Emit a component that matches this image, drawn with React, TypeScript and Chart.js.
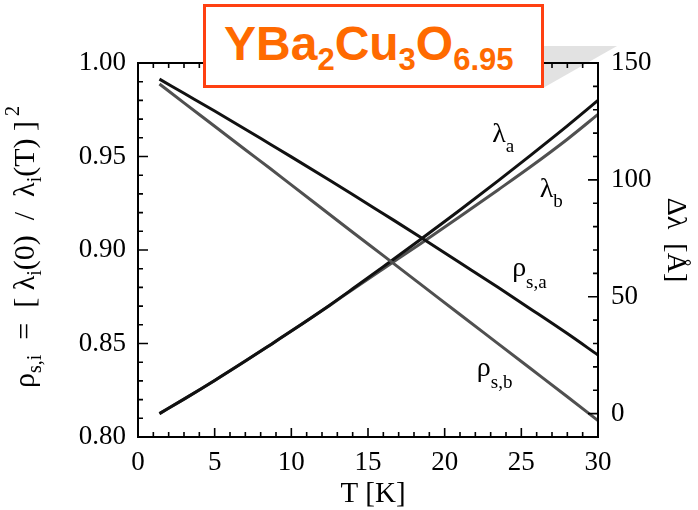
import React, { useEffect, useRef } from "react";
import { Chart, registerables } from "chart.js";

Chart.register(...registerables);

// Temperature grid (K) shared by all four curves
const temperatureK = [1.4, 3, 5, 7, 8.6, 10, 12.5, 14, 16, 18.4, 21, 23.5, 25.6, 28, 30];

// Superfluid density rho_s = [lambda(0)/lambda(T)]^2 along a and b (left axis)
const rhoA = [0.9914, 0.9838, 0.9743, 0.9646, 0.9567, 0.9498, 0.9373, 0.9297, 0.9194, 0.907, 0.8932, 0.8799, 0.8685, 0.8553, 0.8438];
const rhoB = [0.9888, 0.9787, 0.9662, 0.9536, 0.9437, 0.9348, 0.919, 0.9095, 0.897, 0.8819, 0.8655, 0.8498, 0.8366, 0.8215, 0.8088];

// Penetration depth shift Δλ in Å along a and b (right axis)
const deltaLambdaA = [0, 6.2, 14.2, 22.5, 29.3, 35.3, 46.4, 53.4, 62.9, 74.4, 87.1, 99.7, 110.5, 123.1, 134];
const deltaLambdaB = [0, 6.2, 14.2, 22.5, 29.3, 35.3, 46.3, 53.1, 62.0, 72.6, 84.3, 95.8, 105.6, 117.4, 128];

// Labelled tick values
const xTickValues = [0, 5, 10, 15, 20, 25, 30];
const rhoTickValues = [0.8, 0.85, 0.9, 0.95, 1.0];
const lambdaTickValues = [0, 50, 100, 150];

const SERIF = '"Liberation Serif", "Times New Roman", Times, serif';
const SANS = '"Liberation Sans", Arial, Helvetica, sans-serif';

type Run = { t: string; s: number; dy?: number };

function runsWidth(ctx: CanvasRenderingContext2D, runs: Run[]) {
  let w = 0;
  for (const r of runs) {
    ctx.font = `${r.s}px ${SERIF}`;
    w += ctx.measureText(r.t).width;
  }
  return w;
}

function drawRuns(ctx: CanvasRenderingContext2D, runs: Run[], x: number, y: number) {
  let cx = x;
  for (const r of runs) {
    ctx.font = `${r.s}px ${SERIF}`;
    ctx.fillText(r.t, cx, y + (r.dy || 0));
    cx += ctx.measureText(r.t).width;
  }
}

const frameAndLabels = {
  id: "frameAndLabels",
  afterDraw(chart: any) {
    const { ctx, chartArea, scales } = chart;
    const { left, right, top, bottom } = chartArea;
    const x = scales.x;
    const y = scales.y;
    const y1 = scales.y1;

    ctx.save();
    ctx.strokeStyle = "#000";
    ctx.fillStyle = "#000";

    // plot frame
    ctx.lineWidth = 2;
    ctx.strokeRect(left, top, right - left, bottom - top);

    // inward tick marks on all four sides
    ctx.lineWidth = 1.6;
    ctx.beginPath();
    for (let t = 0; t <= 30; t++) {
      const px = x.getPixelForValue(t);
      const len = t % 5 === 0 ? 9 : 5;
      ctx.moveTo(px, bottom);
      ctx.lineTo(px, bottom - len);
      ctx.moveTo(px, top);
      ctx.lineTo(px, top + len);
    }
    for (let i = 0; i <= 20; i++) {
      const py = y.getPixelForValue(0.8 + i * 0.01);
      const len = i % 5 === 0 ? 10 : 5;
      ctx.moveTo(left, py);
      ctx.lineTo(left + len, py);
    }
    for (let v = -10; v <= 150; v += 10) {
      const py = y1.getPixelForValue(v);
      const len = v % 50 === 0 ? 10 : 5;
      ctx.moveTo(right, py);
      ctx.lineTo(right - len, py);
    }
    ctx.stroke();

    ctx.textAlign = "left";
    ctx.textBaseline = "alphabetic";

    // left axis title, rotated
    const leftTitle: Run[] = [
      { t: "ρ", s: 30 },
      { t: "s,i", s: 20, dy: 7 },
      { t: "  =  [ λ", s: 30 },
      { t: "i", s: 20, dy: 7 },
      { t: "(0)  /  λ", s: 30 },
      { t: "i", s: 20, dy: 7 },
      { t: "(T) ]", s: 30 },
      { t: " 2", s: 20, dy: -15 },
    ];
    ctx.save();
    ctx.translate(34, 247);
    ctx.rotate(-Math.PI / 2);
    drawRuns(ctx, leftTitle, -runsWidth(ctx, leftTitle) / 2, 0);
    ctx.restore();

    // right axis title, rotated the other way
    const rightTitle: Run[] = [{ t: "Δλ  [Å]", s: 28 }];
    ctx.save();
    ctx.translate(668, 240);
    ctx.rotate(Math.PI / 2);
    drawRuns(ctx, rightTitle, -runsWidth(ctx, rightTitle) / 2, 0);
    ctx.restore();

    // bottom axis title
    const bottomTitle: Run[] = [{ t: "T [K]", s: 29 }];
    drawRuns(ctx, bottomTitle, 373 - runsWidth(ctx, bottomTitle) / 2, 502);

    // curve labels, anchored in data units (T, left-axis value)
    const curveLabels: { at: [number, number]; runs: Run[] }[] = [
      { at: [23.1, 0.9578], runs: [{ t: "λ", s: 28 }, { t: "a", s: 19, dy: 10 }] },
      { at: [26.2, 0.9283], runs: [{ t: "λ", s: 28 }, { t: "b", s: 19, dy: 10 }] },
      { at: [24.4, 0.8861], runs: [{ t: "ρ", s: 28 }, { t: "s,a", s: 19, dy: 12 }] },
      { at: [22.1, 0.8326], runs: [{ t: "ρ", s: 28 }, { t: "s,b", s: 19, dy: 12 }] },
    ];
    for (const lab of curveLabels) {
      drawRuns(ctx, lab.runs, x.getPixelForValue(lab.at[0]), y.getPixelForValue(lab.at[1]));
    }

    ctx.restore();
  },
};

export default function App() {
  const canvasRef = useRef<HTMLCanvasElement>(null);

  useEffect(() => {
    const canvas = canvasRef.current;
    if (!canvas) return;
    const points = (ys: number[]) => temperatureK.map((t, i) => ({ x: t, y: ys[i] }));
    const tickFont = { family: SERIF, size: 27 };

    const chart = new Chart(canvas, {
      type: "line",
      data: {
        datasets: [
          { label: "ρs,a", data: points(rhoA), yAxisID: "y", borderColor: "#111", borderWidth: 3 },
          { label: "ρs,b", data: points(rhoB), yAxisID: "y", borderColor: "#505050", borderWidth: 3 },
          { label: "λa", data: points(deltaLambdaA), yAxisID: "y1", borderColor: "#111", borderWidth: 3 },
          { label: "λb", data: points(deltaLambdaB), yAxisID: "y1", borderColor: "#505050", borderWidth: 3 },
        ],
      },
      options: {
        animation: false,
        responsive: true,
        maintainAspectRatio: false,
        layout: { padding: { top: 63, left: 0, right: 0, bottom: 0 } },
        elements: {
          point: { radius: 0 },
          line: { cubicInterpolationMode: "monotone", fill: false },
        },
        plugins: { legend: { display: false }, tooltip: { enabled: false } },
        scales: {
          x: {
            type: "linear",
            min: 0,
            max: 30,
            afterBuildTicks: (s: any) => {
              s.ticks = xTickValues.map((v) => ({ value: v }));
            },
            afterFit: (s: any) => {
              s.height = 73;
            },
            grid: { display: false, drawTicks: false },
            border: { display: false },
            ticks: { font: tickFont, color: "#000", padding: 10, maxRotation: 0, autoSkip: false },
          },
          y: {
            type: "linear",
            position: "left",
            min: 0.8,
            max: 1.0,
            afterBuildTicks: (s: any) => {
              s.ticks = rhoTickValues.map((v) => ({ value: v }));
            },
            afterFit: (s: any) => {
              s.width = 138;
            },
            grid: { display: false, drawTicks: false },
            border: { display: false },
            ticks: {
              font: tickFont,
              color: "#000",
              padding: 12,
              callback: (v: any) => Number(v).toFixed(2),
            },
          },
          y1: {
            type: "linear",
            position: "right",
            min: -10,
            max: 150,
            afterBuildTicks: (s: any) => {
              s.ticks = lambdaTickValues.map((v) => ({ value: v }));
            },
            afterFit: (s: any) => {
              s.width = 100;
            },
            grid: { display: false, drawTicks: false },
            border: { display: false },
            ticks: { font: tickFont, color: "#000", padding: 13 },
          },
        },
      },
      plugins: [frameAndLabels],
    } as any);

    return () => chart.destroy();
  }, []);

  const sub = { fontSize: 31, position: "relative" as const, top: 10 };

  return (
    <div style={{ position: "absolute", left: 0, top: 0, width: 698, height: 510, background: "#fff", overflow: "hidden" }}>
      <svg width={698} height={510} style={{ position: "absolute", left: 0, top: 0 }}>
        <polygon points="543,46 617,46 543,88" fill="#e2e2e2" />
      </svg>
      <div style={{ position: "absolute", left: 0, top: 0, width: 698, height: 510 }}>
        <canvas ref={canvasRef} />
      </div>
      <div
        style={{
          position: "absolute",
          left: 203,
          top: 4,
          width: 341,
          height: 84,
          boxSizing: "border-box",
          border: "3.5px solid #ff4011",
          background: "#fff",
        }}
      >
        <div
          style={{
            position: "absolute",
            left: 18,
            top: 13,
            whiteSpace: "nowrap",
            fontFamily: SANS,
            fontWeight: "bold",
            fontSize: 48,
            lineHeight: "48px",
            color: "#ff6a00",
          }}
        >
          YBa<span style={sub}>2</span>Cu<span style={sub}>3</span>O<span style={sub}>6.95</span>
        </div>
      </div>
    </div>
  );
}
